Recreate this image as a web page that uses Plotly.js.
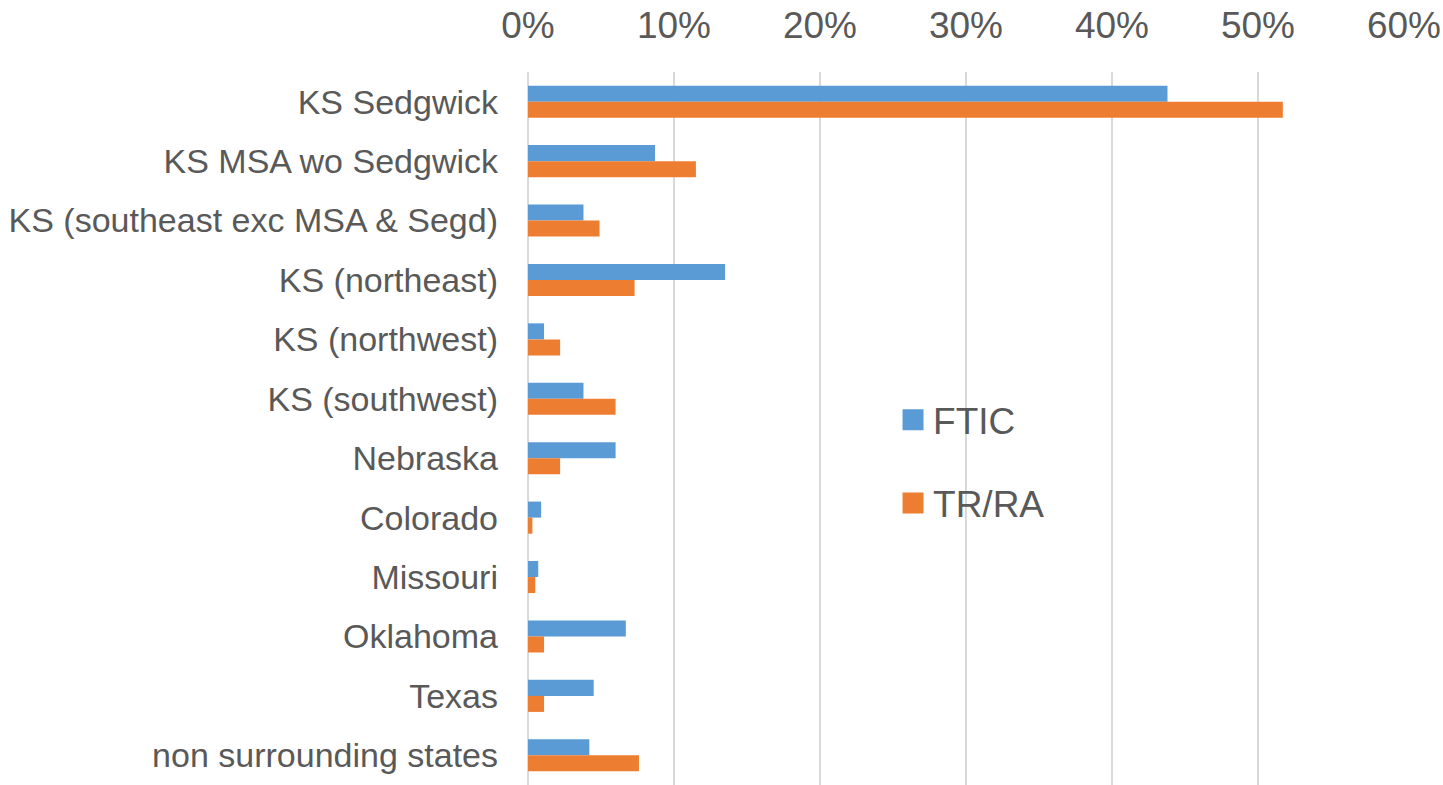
<!DOCTYPE html>
<html>
<head>
<meta charset="utf-8">
<script src="https://cdn.plot.ly/plotly-3.0.1.min.js"></script>
<style>
html,body{margin:0;padding:0;background:#fff;}
#chart{width:1443px;height:785px;}
</style>
</head>
<body>
<div id="chart"></div>
<script>
const categories = [
  "KS Sedgwick",
  "KS MSA wo Sedgwick",
  "KS (southeast exc MSA & Segd)",
  "KS (northeast)",
  "KS (northwest)",
  "KS (southwest)",
  "Nebraska",
  "Colorado",
  "Missouri",
  "Oklahoma",
  "Texas",
  "non surrounding states"
];
const ftic = [43.8, 8.7, 3.8, 13.5, 1.1, 3.8, 6.0, 0.9, 0.7, 6.7, 4.5, 4.2];
const trra = [51.7, 11.5, 4.9, 7.3, 2.2, 6.0, 2.2, 0.3, 0.5, 1.1, 1.1, 7.6];
const tickVals = [0, 10, 20, 30, 40, 50, 60];
const tickText = ["0%", "10%", "20%", "30%", "40%", "50%", "60%"];

const FONT = "Liberation Sans, Arial, sans-serif";
const TXT = "#595959";

const traces = [
  {type: "bar", orientation: "h", name: "FTIC", y: categories, x: ftic,
   marker: {color: "#5B9BD5", line: {width: 0}}, legendgroup: "a", hoverinfo: "x+y"},
  {type: "bar", orientation: "h", name: "TR/RA", y: categories, x: trra,
   marker: {color: "#ED7D31", line: {width: 0}}, legendgroup: "b", hoverinfo: "x+y"}
];

const layout = {
  width: 1443, height: 785,
  margin: {l: 528, r: 39, t: 72, b: 0, pad: 0},
  paper_bgcolor: "#fff", plot_bgcolor: "#fff",
  font: {family: FONT, color: TXT, size: 34},
  barmode: "group", bargap: 0.46, bargroupgap: 0,
  showlegend: true,
  legend: {
    x: 0.4167, xanchor: "left", y: 0.555, yanchor: "top",
    font: {family: FONT, size: 37, color: TXT},
    traceorder: "grouped", tracegroupgap: 32,
    bgcolor: "rgba(0,0,0,0)", borderwidth: 0
  },
  xaxis: {
    side: "top", range: [0, 60], tickvals: tickVals, ticktext: tickText,
    showgrid: true, gridcolor: "#d9d9d9", gridwidth: 2,
    zeroline: true, zerolinecolor: "#d9d9d9", zerolinewidth: 2,
    showline: false, ticks: "",
    tickfont: {family: FONT, size: 37, color: TXT},
    ticklabelstandoff: 26, fixedrange: true
  },
  yaxis: {
    autorange: "reversed", type: "category",
    showgrid: false, zeroline: false, showline: false, ticks: "",
    tickfont: {family: FONT, size: 34, color: TXT},
    ticklabelstandoff: 29, fixedrange: true
  }
};

Plotly.newPlot("chart", traces, layout, {displayModeBar: false, staticPlot: true}).then(function(gd){
  document.querySelectorAll("#chart .legend .legendpoints path").forEach(function(p){
    const t = p.getAttribute("transform") || "";
    p.setAttribute("transform", t + " scale(1.75)");
  });
});
</script>
</body>
</html>
